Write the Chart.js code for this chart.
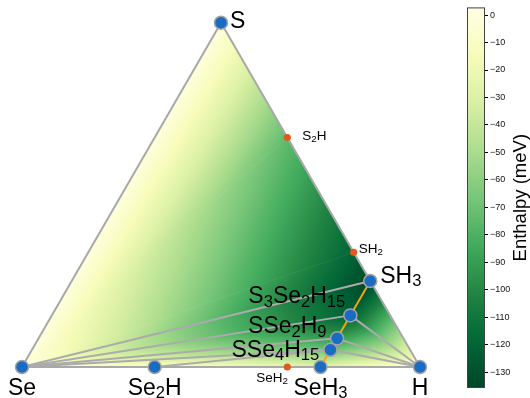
<!DOCTYPE html>
<html>
<head>
<meta charset="utf-8">
<script src="https://cdn.jsdelivr.net/npm/chart.js@4.4.1/dist/chart.umd.min.js"></script>
<style>
  body { margin: 0; background: #fff; }
  #wrap { width: 530px; height: 398px; }
</style>
</head>
<body>
<div id="wrap"><canvas id="hull"></canvas></div>
<script>
// stable phases (on the hull)
const phases = ["S", "Se", "H", "SH3", "Se2H", "SeH3", "S3Se2H15", "SSe2H9", "SSe4H15"];
const nS = [1, 0, 0, 1, 0, 0, 3, 1, 1];
const nSe = [0, 1, 0, 0, 2, 1, 2, 2, 4];
const nH = [0, 0, 1, 3, 1, 3, 15, 9, 15];
const enthalpy = [0, 0, 0, -135, -8, -28, -122, -92, -70]; // meV/atom

// unstable phases (above the hull)
const offPhases = ["S2H", "SH2", "SeH2"];
const offS = [2, 1, 0];
const offSe = [0, 0, 1];
const offH = [1, 2, 2];
const offEnthalpy = [-74, -120, -22];

// triangles used for the colour map
const mesh = [
  ["S", "Se", "S2H"], ["Se", "S2H", "SH2"], ["Se", "SH2", "SH3"],
  ["Se", "SH3", "S3Se2H15"], ["Se", "S3Se2H15", "SSe2H9"], ["Se", "SSe2H9", "SSe4H15"],
  ["Se", "SSe4H15", "Se2H"], ["Se2H", "SSe4H15", "SeH2"], ["SeH2", "SSe4H15", "SeH3"],
  ["H", "SH3", "S3Se2H15"], ["H", "S3Se2H15", "SSe2H9"], ["H", "SSe2H9", "SSe4H15"],
  ["H", "SSe4H15", "SeH3"]
];
// hull tie-lines
const hullLines = [
  ["Se", "SH3"], ["Se", "S3Se2H15"], ["Se", "SSe2H9"], ["Se", "SSe4H15"], ["Se2H", "SSe4H15"],
  ["H", "S3Se2H15"], ["H", "SSe2H9"], ["H", "SSe4H15"]
];
const outline = [["S", "Se"], ["Se", "H"], ["H", "S"]];
const pseudoBinary = ["SH3", "S3Se2H15", "SSe2H9", "SSe4H15", "SeH3"];

const cbTicks = [0, -10, -20, -30, -40, -50, -60, -70, -80, -90, -100, -110, -120, -130];
const cbMin = -135.8, cbMax = 2.8;

// YlGn
const ylgn = ["#ffffe5", "#f7fcb9", "#d9f0a3", "#addd8e", "#78c679", "#41ab5d", "#238443", "#006837", "#004529"];

function ternary(s, se, h) {
  const t = s + se + h;
  return { x: h / t + 0.5 * s / t, y: (Math.sqrt(3) / 2) * s / t };
}
const pos = {}, energyOf = {};
phases.forEach((p, i) => { pos[p] = ternary(nS[i], nSe[i], nH[i]); energyOf[p] = enthalpy[i]; });
offPhases.forEach((p, i) => { pos[p] = ternary(offS[i], offSe[i], offH[i]); energyOf[p] = offEnthalpy[i]; });
const allNames = phases.concat(offPhases);

function hex(c) { return [1, 3, 5].map(k => parseInt(c.slice(k, k + 2), 16)); }
const ylgnRgb = ylgn.map(hex);
function cmap(v) {
  let t = (cbMax - v) / (cbMax - cbMin);
  t = Math.max(0, Math.min(1, t)) * (ylgnRgb.length - 1);
  const i = Math.min(Math.floor(t), ylgnRgb.length - 2);
  const f = t - i;
  const a = ylgnRgb[i], b = ylgnRgb[i + 1];
  const c = a.map((q, k) => Math.round(q + (b[k] - q) * f));
  return `rgb(${c[0]},${c[1]},${c[2]})`;
}

// label placement (pixels relative to the marker)
const labelStyle = {
  S: { dx: 9, dy: 5, align: "left", size: 23 },
  Se: { dx: 0, dy: 28, align: "center", size: 23 },
  H: { dx: 0, dy: 28, align: "center", size: 23 },
  SH3: { dx: 10, dy: 2, align: "left", size: 23 },
  Se2H: { dx: 0, dy: 28, align: "center", size: 23 },
  SeH3: { dx: 0, dy: 28, align: "center", size: 23 },
  S3Se2H15: { dx: -102, dy: -12, align: "left", size: 23 },
  SSe2H9: { dx: -89, dy: -5, align: "left", size: 23 },
  SSe4H15: { dx: -99, dy: 7, align: "left", size: 23 },
  S2H: { dx: 15, dy: 3, align: "left", size: 13.5 },
  SH2: { dx: 5, dy: 1, align: "left", size: 13.5 },
  SeH2: { dx: -31, dy: 15, align: "left", size: 13.5 }
};
const FONT = '"Liberation Sans", Arial, sans-serif';

function drawFormula(ctx, text, x, y, size, align) {
  const runs = text.match(/[A-Za-z]+|[0-9]+/g).map(r => ({ t: r, sub: /[0-9]/.test(r) }));
  const subSize = size * 0.72;
  let w = 0;
  runs.forEach(r => {
    ctx.font = `${r.sub ? subSize : size}px ${FONT}`;
    r.w = ctx.measureText(r.t).width;
    w += r.w;
  });
  let cx = align === "center" ? x - w / 2 : x;
  ctx.textAlign = "left";
  ctx.textBaseline = "alphabetic";
  ctx.fillStyle = "#000";
  runs.forEach(r => {
    ctx.font = `${r.sub ? subSize : size}px ${FONT}`;
    ctx.fillText(r.t, cx, r.sub ? y + size * 0.14 : y);
    cx += r.w;
  });
}

const hullPlugin = {
  id: "hullPlugin",
  beforeDatasetsDraw(chart) {
    const { ctx, scales: { x, y, cb } } = chart;
    const px = p => [x.getPixelForValue(pos[p].x), y.getPixelForValue(pos[p].y)];
    ctx.save();
    mesh.forEach(f => {
      const P = f.map(px);
      const V = f.map(p => energyOf[p]);
      const [x0, y0] = P[0], [x1, y1] = P[1], [x2, y2] = P[2];
      const det = (x1 - x0) * (y2 - y0) - (x2 - x0) * (y1 - y0);
      if (Math.abs(det) < 1e-6) return;
      const a = ((V[1] - V[0]) * (y2 - y0) - (V[2] - V[0]) * (y1 - y0)) / det;
      const b = ((x1 - x0) * (V[2] - V[0]) - (x2 - x0) * (V[1] - V[0])) / det;
      const g2 = a * a + b * b;
      const lo = Math.min(...V), hi = Math.max(...V);
      let style;
      if (g2 < 1e-12 || hi - lo < 1e-6) {
        style = cmap(V[0]);
      } else {
        const sx = x0 + a * (lo - V[0]) / g2, sy = y0 + b * (lo - V[0]) / g2;
        const ex = x0 + a * (hi - V[0]) / g2, ey = y0 + b * (hi - V[0]) / g2;
        style = ctx.createLinearGradient(sx, sy, ex, ey);
        for (let k = 0; k <= 20; k++) style.addColorStop(k / 20, cmap(lo + (hi - lo) * k / 20));
      }
      ctx.beginPath();
      ctx.moveTo(x0, y0); ctx.lineTo(x1, y1); ctx.lineTo(x2, y2); ctx.closePath();
      ctx.fillStyle = style;
      ctx.strokeStyle = style;
      ctx.lineWidth = 0.6;
      ctx.fill();
      ctx.stroke();
    });

    // colorbar
    const top = cb.getPixelForValue(cbMax), bot = cb.getPixelForValue(cbMin);
    const right = cb.left, left = right - 18;
    const grad = ctx.createLinearGradient(0, bot, 0, top);
    for (let k = 0; k <= 20; k++) grad.addColorStop(k / 20, cmap(cbMin + (cbMax - cbMin) * k / 20));
    ctx.fillStyle = grad;
    ctx.fillRect(left, top, right - left, bot - top);
    ctx.strokeStyle = "#444";
    ctx.lineWidth = 1;
    ctx.strokeRect(left + 0.5, top + 0.5, right - left - 1, bot - top - 1);

    ctx.save();
    ctx.translate(cb.right - 9, (top + bot) / 2);
    ctx.rotate(-Math.PI / 2);
    ctx.font = `18.5px ${FONT}`;
    ctx.fillStyle = "#000";
    ctx.textAlign = "center";
    ctx.textBaseline = "middle";
    ctx.fillText("Enthalpy (meV)", 0, 0);
    ctx.restore();
    ctx.restore();
  },
  afterDatasetsDraw(chart) {
    const { ctx, scales: { x, y } } = chart;
    ctx.save();
    allNames.forEach(name => {
      const s = labelStyle[name];
      drawFormula(ctx, name, x.getPixelForValue(pos[name].x) + s.dx, y.getPixelForValue(pos[name].y) + s.dy, s.size, s.align);
    });
    ctx.restore();
  }
};

const seg = (pair, color, order) => ({
  data: pair.map(p => pos[p]),
  showLine: true,
  borderColor: color,
  borderWidth: 2,
  pointRadius: 0,
  fill: false,
  order: order
});

const datasets = [
  {
    data: phases.map(p => pos[p]),
    pointRadius: 6.5,
    pointBackgroundColor: "#1a6cc2",
    pointBorderColor: "#a3a3a3",
    pointBorderWidth: 1.5,
    order: 0
  },
  {
    data: offPhases.map(p => pos[p]),
    pointRadius: 3.6,
    pointBackgroundColor: "#df5a1e",
    pointBorderWidth: 0,
    order: 0
  },
  seg(pseudoBinary, "#f0a60c", 1),
  ...hullLines.map(l => seg(l, "#ababab", 2)),
  ...outline.map(l => seg(l, "#a8a8a8", 3))
];

new Chart(document.getElementById("hull"), {
  type: "scatter",
  data: { datasets },
  options: {
    responsive: true,
    maintainAspectRatio: false,
    animation: false,
    layout: { autoPadding: false, padding: { left: 0, right: 0, top: 7, bottom: 10 } },
    plugins: { legend: { display: false }, tooltip: { enabled: false } },
    scales: {
      x: { type: "linear", display: false, min: -0.05528, max: 1.16332 },
      y: { type: "linear", display: false, min: -0.05276, max: 0.90452 },
      cb: {
        type: "linear",
        position: "right",
        display: true,
        min: cbMin,
        max: cbMax,
        afterBuildTicks: axis => { axis.ticks = cbTicks.map(v => ({ value: v })); },
        afterFit: axis => { axis.width = 45; },
        border: { display: false },
        grid: { drawOnChartArea: false, drawTicks: true, tickLength: 3, color: "#000", tickColor: "#000", tickWidth: 1 },
        ticks: {
          padding: 2,
          color: "#111",
          font: { family: FONT, size: 9 },
          callback: v => v < 0 ? "\u2212" + Math.abs(v) : String(v)
        }
      }
    }
  },
  plugins: [hullPlugin]
});
</script>
</body>
</html>
